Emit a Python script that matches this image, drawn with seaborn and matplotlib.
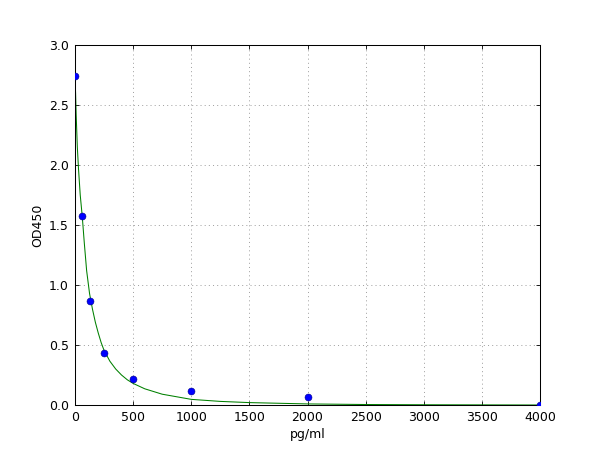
import matplotlib
matplotlib.use("Agg")
import matplotlib.pyplot as plt
import seaborn as sns
import pandas as pd

# Standard points
conc = [0, 62.5, 125, 250, 500, 1000, 2000, 4000]
od = [2.74, 1.575, 0.865, 0.43, 0.215, 0.115, 0.065, 0.0]

# Fitted curve values
curve_x = [0, 5, 10, 20, 30, 45, 62.5, 80, 100, 125, 150, 175, 200, 225, 250, 300,
           350, 400, 450, 500, 600, 750, 1000, 1250, 1500, 2000, 2500, 3000, 4000]
curve_y = [2.72, 2.60, 2.42, 2.15, 1.97, 1.75, 1.57, 1.35, 1.12, 0.93, 0.80, 0.69,
           0.60, 0.52, 0.455, 0.365, 0.30, 0.25, 0.21, 0.18, 0.135, 0.09, 0.047,
           0.03, 0.02, 0.009, 0.004, 0.002, 0.0]

x_ticks = [0, 500, 1000, 1500, 2000, 2500, 3000, 3500, 4000]
y_ticks = [0.0, 0.5, 1.0, 1.5, 2.0, 2.5, 3.0]

sns.set_theme(style="white")
plt.rcParams['font.family'] = ['DejaVu Sans']

fig = plt.figure(figsize=(8, 6), dpi=75)
ax = fig.add_axes([0.125, 0.1, 0.775, 0.8])

pts = pd.DataFrame({"x": conc, "y": od})
crv = pd.DataFrame({"x": curve_x, "y": curve_y})

sns.lineplot(data=crv, x="x", y="y", ax=ax, color="#008000", linewidth=1.0,
             estimator=None, sort=True, zorder=2)
sns.scatterplot(data=pts, x="x", y="y", ax=ax, color="#0000ff", edgecolor="#00007f",
                linewidth=0.5, s=45, zorder=3)

ax.set_xlim(0, 4000)
ax.set_ylim(0, 3.0)
ax.set_xticks(x_ticks)
ax.set_yticks(y_ticks)
ax.set_xticklabels([str(t) for t in x_ticks])
ax.set_yticklabels([f"{t:.1f}" for t in y_ticks])
ax.set_xlabel("pg/ml", fontsize=12, color="black")
ax.set_ylabel("OD450", fontsize=12, color="black")
ax.tick_params(axis="both", labelsize=12, colors="black", direction="in",
               length=4, width=0.8, top=True, right=True, bottom=True, left=True,
               pad=6)
ax.grid(True, color="#555555", linestyle=(0, (2, 6)), linewidth=0.5)
for sp in ax.spines.values():
    sp.set_visible(True)
    sp.set_color("black")
    sp.set_linewidth(1.0)
ax.set_facecolor("white")
fig.patch.set_facecolor("white")

fig.savefig("out.png", dpi=75)
